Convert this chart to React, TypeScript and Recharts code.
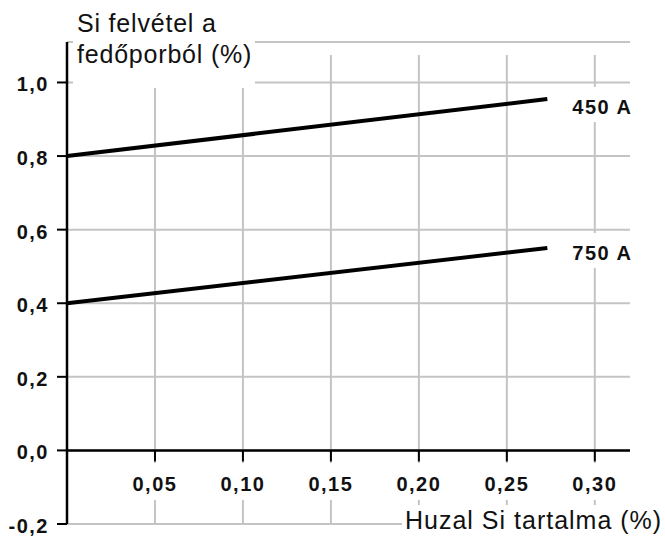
import { LineChart, Line, XAxis, YAxis, CartesianGrid, ReferenceLine, Label } from 'recharts';

// Huzal Si tartalma (%) -> Si felvétel a fedőporból (%)
const wireSi = [0, 0.273];
const pickup450 = [0.8, 0.955];
const pickup750 = [0.4, 0.55];
const seriesNames = ['450 A', '750 A'];
const xTicks = [0.05, 0.1, 0.15, 0.2, 0.25, 0.3];
const yTicks = [-0.2, 0, 0.2, 0.4, 0.6, 0.8, 1.0];
const gridTop = 1.075;

const data = wireSi.map((x, i) => ({ x, a450: pickup450[i], a750: pickup750[i] }));

const FONT = '"Liberation Sans", Arial, sans-serif';
const GRID = '#c4c4c4';

const comma = (v: number, digits: number) => v.toFixed(digits).replace('.', ',');

const XTick = ({ x, y, payload }: any) => (
    <g>
        <rect x={x - 26} y={y - 61} width={52} height={37} fill="#fff" />
        <text
            x={x}
            y={y - 33}
            textAnchor="middle"
            fontFamily={FONT}
            fontWeight="bold"
            fontSize={20}
            letterSpacing={1.5}
            fill="#111"
        >
            {comma(payload.value, 2)}
        </text>
    </g>
);

const YTick = ({ x, y, payload }: any) => (
    <text
        x={x}
        y={y + 9}
        textAnchor="end"
        fontFamily={FONT}
        fontWeight="bold"
        fontSize={20}
        letterSpacing={1.5}
        fill="#111"
    >
        {comma(payload.value, 1)}
    </text>
);

const seriesLabel = (name: string, drop: number) => (p: any) => {
    if (p.index !== wireSi.length - 1) return <g key={`l-${p.index}`} />;
    const bx = p.x + 25;
    const by = p.y + drop;
    return (
        <g key={`l-${p.index}`}>
            <rect x={bx - 4} y={by - 27} width={70} height={35} fill="#fff" />
            <text x={bx} y={by} fontFamily={FONT} fontWeight="bold" fontSize={20} letterSpacing={1.5} fill="#111">
                {name}
            </text>
        </g>
    );
};

const YTitle = ({ viewBox }: any) => {
    const left = viewBox.x + viewBox.width + 10;
    return (
        <g>
            <rect x={left - 4} y={viewBox.y - 42} width={182} height={88} fill="#fff" />
            <text x={left} y={viewBox.y - 10} fontFamily={FONT} fontSize={25} letterSpacing={0.8} fill="#111">
                Si felvétel a
            </text>
            <text x={left} y={viewBox.y + 21} fontFamily={FONT} fontSize={25} letterSpacing={0.8} fill="#111">
                fedőporból (%)
            </text>
        </g>
    );
};

const XTitle = ({ viewBox }: any) => (
    <g>
        <rect x={viewBox.x + 335} y={viewBox.y - 19} width={270} height={40} fill="#fff" />
        <text x={viewBox.x + 338} y={viewBox.y + 5} fontFamily={FONT} fontSize={25} letterSpacing={1} fill="#111">
            Huzal Si tartalma (%)
        </text>
    </g>
);

export default function App() {
    return (
        <div style={{ position: 'absolute', left: 0, top: 0, background: '#fff' }}>
            <LineChart width={665} height={536} data={data} margin={{ top: 42, right: 35, bottom: 0, left: 0 }}>
                <CartesianGrid vertical={false} stroke={GRID} strokeWidth={2} />
                {xTicks.map((t) => (
                    <ReferenceLine
                        key={`g-${t}`}
                        segment={[{ x: t, y: -0.2 }, { x: t, y: gridTop }]}
                        stroke={GRID}
                        strokeWidth={2}
                    />
                ))}
                <XAxis
                    type="number"
                    dataKey="x"
                    domain={[0, 0.32]}
                    ticks={xTicks}
                    interval={0}
                    axisLine={false}
                    tickLine={false}
                    tickSize={0}
                    tickMargin={0}
                    height={12}
                    tick={<XTick />}
                >
                    <Label content={<XTitle />} />
                </XAxis>
                <YAxis
                    type="number"
                    domain={[-0.2, 1.11]}
                    ticks={yTicks}
                    interval={0}
                    width={67}
                    axisLine={{ stroke: '#000', strokeWidth: 2.5 }}
                    tickLine={{ stroke: '#000', strokeWidth: 2 }}
                    tickSize={10}
                    tickMargin={8}
                    tick={<YTick />}
                >
                    <Label content={<YTitle />} />
                </YAxis>
                <ReferenceLine y={0} stroke="#000" strokeWidth={2.5} />
                {xTicks.map((t) => (
                    <ReferenceLine
                        key={`t-${t}`}
                        segment={[{ x: t, y: 0 }, { x: t, y: -0.03 }]}
                        stroke="#000"
                        strokeWidth={2}
                    />
                ))}
                <Line
                    type="linear"
                    dataKey="a450"
                    name={seriesNames[0]}
                    stroke="#000"
                    strokeWidth={4}
                    dot={false}
                    isAnimationActive={false}
                    label={seriesLabel(seriesNames[0], 15)}
                />
                <Line
                    type="linear"
                    dataKey="a750"
                    name={seriesNames[1]}
                    stroke="#000"
                    strokeWidth={4}
                    dot={false}
                    isAnimationActive={false}
                    label={seriesLabel(seriesNames[1], 12)}
                />
            </LineChart>
        </div>
    );
}
